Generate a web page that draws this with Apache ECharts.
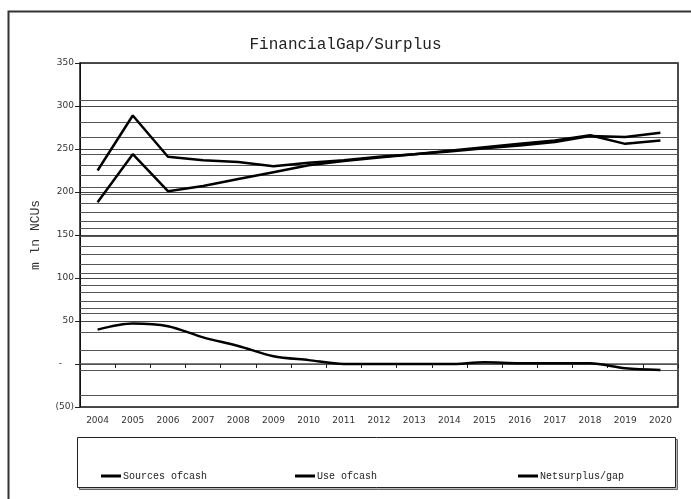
<!DOCTYPE html>
<html>
<head>
<meta charset="utf-8">
<script src="https://cdn.jsdelivr.net/npm/echarts@6/dist/echarts.min.js"></script>
<style>
  html, body { margin: 0; padding: 0; background: #fff; }
  #chart { width: 691px; height: 499px; }
</style>
</head>
<body>
<div id="chart"></div>
<script>
// Years on the category axis
const years = ['2004','2005','2006','2007','2008','2009','2010','2011','2012',
               '2013','2014','2015','2016','2017','2018','2019','2020'];

// mln NCUs
const sourcesOfCash = [225, 289, 241, 237, 235, 230, 234, 237, 241, 244, 248, 252, 256, 260, 266, 256, 260];
const useOfCash     = [188, 244, 201, 207, 215, 223, 231, 236, 240, 244, 247, 251, 254, 258, 265, 264, 269];
const netSurplusGap = [40, 47, 44, 31, 21, 9, 4.5, 0, 0, 0, 0, 2, 1, 1, 1, -5, -7];

// Value-axis tick labels (accounting style)
const yTickLabels = { '350': '350', '300': '300', '250': '250', '200': '200', '150': '150',
                      '100': '100', '50': '50', '0': '-', '-50': '(50)' };

// Extra horizontal rules across the plot
const extraRules = [307, 281, 264, 244, 231, 220, 206, 197, 187, 177, 166, 158, 148,
                    137, 128, 116, 106, 92, 84, 73, 65, 59, 37, 16, -7, -36];

const seriesNames = ['Sources ofcash', 'Use ofcash', 'Netsurplus/gap'];

const chart = echarts.init(document.getElementById('chart'), null, { renderer: 'canvas' });

const mono = '"Liberation Mono", "DejaVu Sans Mono", monospace';
const sans = '"DejaVu Sans", sans-serif';

function legendFor(name, left) {
  return {
    data: [name], left: left, top: 466,
    icon: 'rect', itemWidth: 20, itemHeight: 3, itemGap: 2,
    textStyle: { fontFamily: mono, fontSize: 10, color: '#222', padding: [0, 0, 0, -3] },
    selectedMode: false
  };
}

chart.setOption({
  animation: false,
  backgroundColor: '#fff',
  title: {
    text: 'FinancialGap/Surplus',
    left: 'center', top: 32,
    textStyle: { fontFamily: mono, fontSize: 16, fontWeight: 'normal', color: '#222' }
  },
  graphic: [
    // outer frame of the chart object
    { type: 'rect', z: -10, shape: { x: 8.5, y: 11.5, width: 720, height: 520 },
      style: { fill: 'none', stroke: '#333', lineWidth: 2 } },
    // legend box shadow and box
    { type: 'rect', z: -5, shape: { x: 79.5, y: 439.5, width: 598, height: 50 },
      style: { fill: '#bbb', stroke: '#666', lineWidth: 1 } },
    { type: 'rect', z: -4, shape: { x: 77.5, y: 437.5, width: 598, height: 50 },
      style: { fill: '#fff', stroke: '#222', lineWidth: 1 } }
  ],
  legend: [
    legendFor(seriesNames[0], 96),
    legendFor(seriesNames[1], 290),
    legendFor(seriesNames[2], 513)
  ],
  grid: {
    left: 80, right: 13, top: 63, bottom: 92,
    show: true, borderColor: '#111', borderWidth: 1.5, backgroundColor: 'transparent'
  },
  xAxis: {
    type: 'category',
    data: years,
    boundaryGap: true,
    axisLine: { onZero: true, lineStyle: { color: '#555', width: 1.5 } },
    axisTick: { show: true, length: 4, lineStyle: { color: '#222' } },
    axisLabel: { fontFamily: sans, fontSize: 9, color: '#333', margin: 9 },
    splitLine: { show: false }
  },
  yAxis: {
    type: 'value',
    min: -50, max: 350, interval: 50,
    name: 'm ln NCUs',
    nameLocation: 'middle', nameGap: 38, nameRotate: 90,
    nameTextStyle: { fontFamily: mono, fontSize: 13, color: '#333', padding: [0, 0, 0, 0] },
    axisLine: { show: true, lineStyle: { color: '#111' } },
    axisTick: { show: true, length: 5, lineStyle: { color: '#222' } },
    axisLabel: {
      fontFamily: sans, fontSize: 9, color: '#333', margin: 6,
      formatter: v => {
        const s = yTickLabels[String(v)];
        if (s === undefined) return '';
        return v === 0 ? '{z|' + s + '}' : s;
      },
      rich: { z: { fontFamily: sans, fontSize: 9, color: '#333', padding: [0, 12, 0, 0] } }
    },
    splitLine: { show: true, lineStyle: { color: '#444', width: 1 } }
  },
  series: [
    {
      name: '__rules', type: 'line', data: [], z: 1, silent: true,
      markLine: {
        silent: true, symbol: 'none', label: { show: false },
        lineStyle: { color: '#555', width: 1, type: 'solid' },
        data: extraRules.map(v => ({ yAxis: v }))
      }
    },
    {
      name: seriesNames[0], type: 'line', data: sourcesOfCash, z: 5,
      symbol: 'none', lineStyle: { color: '#000', width: 2.5 }, itemStyle: { color: '#000' }
    },
    {
      name: seriesNames[1], type: 'line', data: useOfCash, z: 5,
      symbol: 'none', lineStyle: { color: '#000', width: 2.5 }, itemStyle: { color: '#000' }
    },
    {
      name: seriesNames[2], type: 'line', data: netSurplusGap, z: 5, smooth: 0.3,
      symbol: 'none', lineStyle: { color: '#000', width: 2.5 }, itemStyle: { color: '#000' }
    }
  ]
});
</script>
</body>
</html>
